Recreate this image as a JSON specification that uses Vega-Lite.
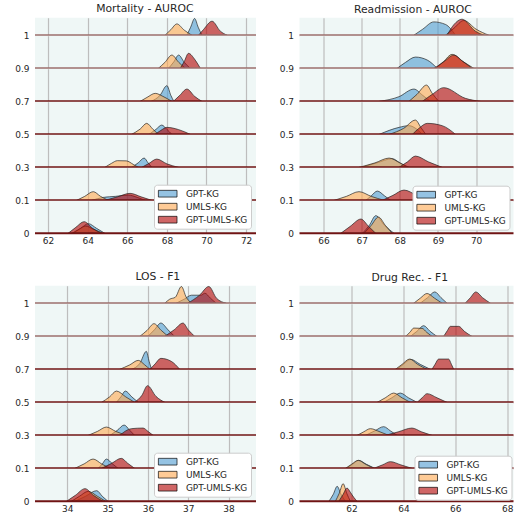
{
"$schema":"https://vega.github.io/schema/vega-lite/v6.json",
"padding":{"left":14,"top":2.7,"right":0,"bottom":0},
"datasets":{
"M":[
{"r":1,"s":"a","x":69.01,"d":0},{"r":1,"s":"a","x":69.2,"d":8},{"r":1,"s":"a","x":69.4,"d":16.7},{"r":1,"s":"a","x":69.58,"d":8},{"r":1,"s":"a","x":69.77,"d":0},
{"r":1,"s":"b","x":67.91,"d":0},{"r":1,"s":"b","x":68.2,"d":5.5},{"r":1,"s":"b","x":68.5,"d":11.3},{"r":1,"s":"b","x":68.88,"d":5},{"r":1,"s":"b","x":69.26,"d":0},
{"r":1,"s":"c","x":69.6,"d":0},{"r":1,"s":"c","x":69.85,"d":5.7},{"r":1,"s":"c","x":70.28,"d":14},{"r":1,"s":"c","x":70.7,"d":4},{"r":1,"s":"c","x":71.04,"d":0},
{"r":0.9,"s":"a","x":68.08,"d":0},{"r":0.9,"s":"a","x":68.35,"d":6.5},{"r":0.9,"s":"a","x":68.59,"d":13.3},{"r":0.9,"s":"a","x":68.88,"d":6},{"r":0.9,"s":"a","x":69.18,"d":0},
{"r":0.9,"s":"b","x":67.57,"d":0},{"r":0.9,"s":"b","x":67.9,"d":6},{"r":0.9,"s":"b","x":68.25,"d":13.3},{"r":0.9,"s":"b","x":68.6,"d":6},{"r":0.9,"s":"b","x":68.93,"d":0},
{"r":0.9,"s":"c","x":68.67,"d":0},{"r":0.9,"s":"c","x":68.88,"d":7},{"r":0.9,"s":"c","x":69.09,"d":15},{"r":0.9,"s":"c","x":69.43,"d":8.3},{"r":0.9,"s":"c","x":69.69,"d":0},
{"r":0.7,"s":"a","x":67.2,"d":0},{"r":0.7,"s":"a","x":67.65,"d":6},{"r":0.7,"s":"a","x":68.0,"d":15.7},{"r":0.7,"s":"a","x":68.2,"d":6},{"r":0.7,"s":"a","x":68.35,"d":0},
{"r":0.7,"s":"b","x":66.65,"d":0},{"r":0.7,"s":"b","x":67.0,"d":4},{"r":0.7,"s":"b","x":67.41,"d":8},{"r":0.7,"s":"b","x":67.8,"d":5},{"r":0.7,"s":"b","x":68.25,"d":0},
{"r":0.7,"s":"c","x":68.33,"d":0},{"r":0.7,"s":"c","x":68.65,"d":6},{"r":0.7,"s":"c","x":69.01,"d":12.3},{"r":0.7,"s":"c","x":69.4,"d":5},{"r":0.7,"s":"c","x":69.77,"d":0},
{"r":0.5,"s":"a","x":67.1,"d":0},{"r":0.5,"s":"a","x":67.45,"d":5},{"r":0.5,"s":"a","x":67.74,"d":9.3},{"r":0.5,"s":"a","x":68.0,"d":5},{"r":0.5,"s":"a","x":68.25,"d":0},
{"r":0.5,"s":"b","x":66.22,"d":0},{"r":0.5,"s":"b","x":66.65,"d":5.3},{"r":0.5,"s":"b","x":66.98,"d":11},{"r":0.5,"s":"b","x":67.3,"d":5},{"r":0.5,"s":"b","x":67.57,"d":0},
{"r":0.5,"s":"c","x":67.4,"d":0},{"r":0.5,"s":"c","x":67.7,"d":4},{"r":0.5,"s":"c","x":68.0,"d":7},{"r":0.5,"s":"c","x":68.6,"d":4.7},{"r":0.5,"s":"c","x":69.18,"d":0},
{"r":0.3,"s":"a","x":66.22,"d":0},{"r":0.3,"s":"a","x":66.55,"d":4.5},{"r":0.3,"s":"a","x":66.85,"d":9.3},{"r":0.3,"s":"a","x":67.05,"d":4.5},{"r":0.3,"s":"a","x":67.24,"d":0},
{"r":0.3,"s":"b","x":64.87,"d":0},{"r":0.3,"s":"b","x":65.2,"d":4},{"r":0.3,"s":"b","x":65.5,"d":6.7},{"r":0.3,"s":"b","x":65.95,"d":6.5},{"r":0.3,"s":"b","x":66.3,"d":3},{"r":0.3,"s":"b","x":66.56,"d":0},
{"r":0.3,"s":"c","x":66.73,"d":0},{"r":0.3,"s":"c","x":67.1,"d":4},{"r":0.3,"s":"c","x":67.49,"d":8.3},{"r":0.3,"s":"c","x":68.0,"d":3.5},{"r":0.3,"s":"c","x":68.59,"d":0},
{"r":0.1,"s":"a","x":64.2,"d":0},{"r":0.1,"s":"a","x":64.8,"d":3},{"r":0.1,"s":"a","x":65.4,"d":4},{"r":0.1,"s":"a","x":66.05,"d":5.3},{"r":0.1,"s":"a","x":66.5,"d":3},{"r":0.1,"s":"a","x":66.9,"d":0},
{"r":0.1,"s":"b","x":63.44,"d":0},{"r":0.1,"s":"b","x":63.85,"d":4},{"r":0.1,"s":"b","x":64.28,"d":8.7},{"r":0.1,"s":"b","x":64.65,"d":4},{"r":0.1,"s":"b","x":65.04,"d":0},
{"r":0.1,"s":"c","x":64.87,"d":0},{"r":0.1,"s":"c","x":65.5,"d":3.5},{"r":0.1,"s":"c","x":66.14,"d":7},{"r":0.1,"s":"c","x":66.7,"d":3.5},{"r":0.1,"s":"c","x":67.24,"d":0},
{"r":0,"s":"a","x":63.27,"d":0},{"r":0,"s":"a","x":63.65,"d":5},{"r":0,"s":"a","x":64.03,"d":9.7},{"r":0,"s":"a","x":64.45,"d":5},{"r":0,"s":"a","x":64.87,"d":0},
{"r":0,"s":"b","x":63.2,"d":0},{"r":0,"s":"b","x":63.55,"d":4},{"r":0,"s":"b","x":63.9,"d":7.3},{"r":0,"s":"b","x":64.3,"d":4},{"r":0,"s":"b","x":64.8,"d":0},
{"r":0,"s":"c","x":63.01,"d":0},{"r":0,"s":"c","x":63.4,"d":6},{"r":0,"s":"c","x":63.82,"d":11.7},{"r":0,"s":"c","x":64.25,"d":5},{"r":0,"s":"c","x":64.7,"d":0}
],
"A":[
{"r":1,"s":"a","x":68.37,"d":0},{"r":1,"s":"a","x":68.6,"d":6},{"r":1,"s":"a","x":68.89,"d":13.3},{"r":1,"s":"a","x":69.2,"d":10.7},{"r":1,"s":"a","x":69.46,"d":0},
{"r":1,"s":"b","x":69.2,"d":0},{"r":1,"s":"b","x":69.42,"d":7},{"r":1,"s":"b","x":69.68,"d":14.7},{"r":1,"s":"b","x":70.0,"d":6},{"r":1,"s":"b","x":70.33,"d":0},
{"r":1,"s":"c","x":69.24,"d":0},{"r":1,"s":"c","x":69.42,"d":10.7},{"r":1,"s":"c","x":69.63,"d":16},{"r":1,"s":"c","x":69.98,"d":4},{"r":1,"s":"c","x":70.2,"d":0},
{"r":0.9,"s":"a","x":67.93,"d":0},{"r":0.9,"s":"a","x":68.15,"d":6},{"r":0.9,"s":"a","x":68.41,"d":11.3},{"r":0.9,"s":"a","x":68.72,"d":8.3},{"r":0.9,"s":"a","x":68.98,"d":0},
{"r":0.9,"s":"b","x":68.94,"d":0},{"r":0.9,"s":"b","x":69.15,"d":7},{"r":0.9,"s":"b","x":69.37,"d":14},{"r":0.9,"s":"b","x":69.65,"d":7},{"r":0.9,"s":"b","x":69.94,"d":0},
{"r":0.9,"s":"c","x":68.9,"d":0},{"r":0.9,"s":"c","x":69.15,"d":6.5},{"r":0.9,"s":"c","x":69.42,"d":13.3},{"r":0.9,"s":"c","x":69.65,"d":7},{"r":0.9,"s":"c","x":69.9,"d":0},
{"r":0.7,"s":"a","x":67.46,"d":0},{"r":0.7,"s":"a","x":67.98,"d":4.7},{"r":0.7,"s":"a","x":68.37,"d":12.3},{"r":0.7,"s":"a","x":68.6,"d":6},{"r":0.7,"s":"a","x":68.8,"d":0},
{"r":0.7,"s":"b","x":68.24,"d":0},{"r":0.7,"s":"b","x":68.45,"d":7},{"r":0.7,"s":"b","x":68.7,"d":16.3},{"r":0.7,"s":"b","x":68.85,"d":8},{"r":0.7,"s":"b","x":69.02,"d":0},
{"r":0.7,"s":"c","x":68.59,"d":0},{"r":0.7,"s":"c","x":68.85,"d":7},{"r":0.7,"s":"c","x":69.15,"d":13.7},{"r":0.7,"s":"c","x":69.72,"d":3},{"r":0.7,"s":"c","x":70.11,"d":0},
{"r":0.5,"s":"a","x":67.46,"d":0},{"r":0.5,"s":"a","x":67.98,"d":7},{"r":0.5,"s":"a","x":68.24,"d":8.7},{"r":0.5,"s":"a","x":68.45,"d":5},{"r":0.5,"s":"a","x":68.59,"d":0},
{"r":0.5,"s":"b","x":67.72,"d":0},{"r":0.5,"s":"b","x":68.1,"d":6},{"r":0.5,"s":"b","x":68.41,"d":14.3},{"r":0.5,"s":"b","x":68.55,"d":7},{"r":0.5,"s":"b","x":68.68,"d":0},
{"r":0.5,"s":"c","x":68.33,"d":0},{"r":0.5,"s":"c","x":68.5,"d":6},{"r":0.5,"s":"c","x":68.72,"d":11},{"r":0.5,"s":"c","x":69.11,"d":8.7},{"r":0.5,"s":"c","x":69.46,"d":0},
{"r":0.3,"s":"a","x":67.0,"d":0},{"r":0.3,"s":"a","x":67.4,"d":4.5},{"r":0.3,"s":"a","x":67.8,"d":8.7},{"r":0.3,"s":"a","x":68.0,"d":4.5},{"r":0.3,"s":"a","x":68.2,"d":0},
{"r":0.3,"s":"b","x":66.93,"d":0},{"r":0.3,"s":"b","x":67.35,"d":4.5},{"r":0.3,"s":"b","x":67.72,"d":9.3},{"r":0.3,"s":"b","x":68.0,"d":4.5},{"r":0.3,"s":"b","x":68.24,"d":0},
{"r":0.3,"s":"c","x":67.98,"d":0},{"r":0.3,"s":"c","x":68.2,"d":5.5},{"r":0.3,"s":"c","x":68.41,"d":11.3},{"r":0.3,"s":"c","x":68.75,"d":5.5},{"r":0.3,"s":"c","x":69.11,"d":0},
{"r":0.1,"s":"a","x":67.11,"d":0},{"r":0.1,"s":"a","x":67.25,"d":4.5},{"r":0.1,"s":"a","x":67.41,"d":9.3},{"r":0.1,"s":"a","x":67.6,"d":4.5},{"r":0.1,"s":"a","x":67.76,"d":0},
{"r":0.1,"s":"b","x":66.28,"d":0},{"r":0.1,"s":"b","x":66.6,"d":4},{"r":0.1,"s":"b","x":66.93,"d":8.7},{"r":0.1,"s":"b","x":67.25,"d":4},{"r":0.1,"s":"b","x":67.59,"d":0},
{"r":0.1,"s":"c","x":67.54,"d":0},{"r":0.1,"s":"c","x":67.82,"d":5},{"r":0.1,"s":"c","x":68.11,"d":10.3},{"r":0.1,"s":"c","x":68.45,"d":5},{"r":0.1,"s":"c","x":68.8,"d":0},
{"r":0,"s":"a","x":67.02,"d":0},{"r":0,"s":"a","x":67.2,"d":8},{"r":0,"s":"a","x":67.37,"d":17.7},{"r":0,"s":"a","x":67.6,"d":8},{"r":0,"s":"a","x":67.85,"d":0},
{"r":0,"s":"b","x":67.06,"d":0},{"r":0,"s":"b","x":67.25,"d":8},{"r":0,"s":"b","x":67.44,"d":16.3},{"r":0,"s":"b","x":67.62,"d":8},{"r":0,"s":"b","x":67.8,"d":0},
{"r":0,"s":"c","x":66.45,"d":0},{"r":0,"s":"c","x":66.7,"d":7},{"r":0,"s":"c","x":66.98,"d":14.3},{"r":0,"s":"c","x":67.18,"d":7},{"r":0,"s":"c","x":67.37,"d":0}
],
"L":[
{"r":1,"s":"a","x":36.7,"d":0},{"r":1,"s":"a","x":36.9,"d":4},{"r":1,"s":"a","x":37.08,"d":8},{"r":1,"s":"a","x":37.32,"d":8},{"r":1,"s":"a","x":37.41,"d":10},{"r":1,"s":"a","x":37.55,"d":5},{"r":1,"s":"a","x":37.69,"d":0},
{"r":1,"s":"b","x":36.42,"d":0},{"r":1,"s":"b","x":36.54,"d":4},{"r":1,"s":"b","x":36.68,"d":6},{"r":1,"s":"b","x":36.83,"d":16.7},{"r":1,"s":"b","x":36.95,"d":6},{"r":1,"s":"b","x":37.08,"d":0},
{"r":1,"s":"c","x":36.99,"d":0},{"r":1,"s":"c","x":37.28,"d":8},{"r":1,"s":"c","x":37.51,"d":16.7},{"r":1,"s":"c","x":37.7,"d":5},{"r":1,"s":"c","x":37.94,"d":0},
{"r":0.9,"s":"a","x":36.0,"d":0},{"r":0.9,"s":"a","x":36.16,"d":6.5},{"r":0.9,"s":"a","x":36.32,"d":13.3},{"r":0.9,"s":"a","x":36.5,"d":6.5},{"r":0.9,"s":"a","x":36.66,"d":0},
{"r":0.9,"s":"b","x":35.8,"d":0},{"r":0.9,"s":"b","x":35.98,"d":6},{"r":0.9,"s":"b","x":36.15,"d":12.7},{"r":0.9,"s":"b","x":36.33,"d":6},{"r":0.9,"s":"b","x":36.5,"d":0},
{"r":0.9,"s":"c","x":36.42,"d":0},{"r":0.9,"s":"c","x":36.65,"d":6.5},{"r":0.9,"s":"c","x":36.87,"d":13.3},{"r":0.9,"s":"c","x":37.0,"d":6.5},{"r":0.9,"s":"c","x":37.16,"d":0},
{"r":0.7,"s":"a","x":35.59,"d":0},{"r":0.7,"s":"a","x":35.8,"d":6},{"r":0.7,"s":"a","x":35.96,"d":18},{"r":0.7,"s":"a","x":36.03,"d":8},{"r":0.7,"s":"a","x":36.09,"d":0},
{"r":0.7,"s":"b","x":35.3,"d":0},{"r":0.7,"s":"b","x":35.55,"d":4.5},{"r":0.7,"s":"b","x":35.76,"d":9},{"r":0.7,"s":"b","x":35.92,"d":4.5},{"r":0.7,"s":"b","x":36.05,"d":0},
{"r":0.7,"s":"c","x":36.05,"d":0},{"r":0.7,"s":"c","x":36.18,"d":5.5},{"r":0.7,"s":"c","x":36.32,"d":11},{"r":0.7,"s":"c","x":36.58,"d":8},{"r":0.7,"s":"c","x":36.79,"d":0},
{"r":0.5,"s":"a","x":35.22,"d":0},{"r":0.5,"s":"a","x":35.33,"d":5.5},{"r":0.5,"s":"a","x":35.44,"d":11.3},{"r":0.5,"s":"a","x":35.6,"d":5.5},{"r":0.5,"s":"a","x":35.76,"d":0},
{"r":0.5,"s":"b","x":34.85,"d":0},{"r":0.5,"s":"b","x":35.05,"d":5.5},{"r":0.5,"s":"b","x":35.22,"d":11.3},{"r":0.5,"s":"b","x":35.45,"d":5.5},{"r":0.5,"s":"b","x":35.67,"d":0},
{"r":0.5,"s":"c","x":35.67,"d":0},{"r":0.5,"s":"c","x":35.85,"d":7},{"r":0.5,"s":"c","x":35.99,"d":16.7},{"r":0.5,"s":"c","x":36.2,"d":6},{"r":0.5,"s":"c","x":36.42,"d":0},
{"r":0.3,"s":"a","x":35.06,"d":0},{"r":0.3,"s":"a","x":35.24,"d":5},{"r":0.3,"s":"a","x":35.41,"d":10.3},{"r":0.3,"s":"a","x":35.55,"d":5},{"r":0.3,"s":"a","x":35.67,"d":0},
{"r":0.3,"s":"b","x":34.52,"d":0},{"r":0.3,"s":"b","x":34.75,"d":4},{"r":0.3,"s":"b","x":34.97,"d":8.3},{"r":0.3,"s":"b","x":35.2,"d":4},{"r":0.3,"s":"b","x":35.47,"d":0},
{"r":0.3,"s":"c","x":35.3,"d":0},{"r":0.3,"s":"c","x":35.59,"d":6.7},{"r":0.3,"s":"c","x":35.88,"d":7.3},{"r":0.3,"s":"c","x":36.0,"d":4},{"r":0.3,"s":"c","x":36.13,"d":0},
{"r":0.1,"s":"a","x":34.77,"d":0},{"r":0.1,"s":"a","x":34.87,"d":4.5},{"r":0.1,"s":"a","x":34.97,"d":9.3},{"r":0.1,"s":"a","x":35.12,"d":4.5},{"r":0.1,"s":"a","x":35.26,"d":0},
{"r":0.1,"s":"b","x":34.19,"d":0},{"r":0.1,"s":"b","x":34.42,"d":4.5},{"r":0.1,"s":"b","x":34.64,"d":9.3},{"r":0.1,"s":"b","x":34.85,"d":4.5},{"r":0.1,"s":"b","x":35.06,"d":0},
{"r":0.1,"s":"c","x":34.85,"d":0},{"r":0.1,"s":"c","x":35.1,"d":5},{"r":0.1,"s":"c","x":35.34,"d":10},{"r":0.1,"s":"c","x":35.5,"d":5},{"r":0.1,"s":"c","x":35.67,"d":0},
{"r":0,"s":"a","x":34.19,"d":0},{"r":0,"s":"a","x":34.45,"d":5},{"r":0,"s":"a","x":34.73,"d":10.7},{"r":0,"s":"a","x":34.87,"d":5},{"r":0,"s":"a","x":35.01,"d":0},
{"r":0,"s":"b","x":34.1,"d":0},{"r":0,"s":"b","x":34.3,"d":5},{"r":0,"s":"b","x":34.52,"d":10},{"r":0,"s":"b","x":34.75,"d":5},{"r":0,"s":"b","x":34.95,"d":0},
{"r":0,"s":"c","x":33.98,"d":0},{"r":0,"s":"c","x":34.2,"d":6},{"r":0,"s":"c","x":34.44,"d":12.7},{"r":0,"s":"c","x":34.65,"d":6},{"r":0,"s":"c","x":34.89,"d":0}
],
"D":[
{"r":1,"s":"a","x":64.65,"d":0},{"r":1,"s":"a","x":64.93,"d":5.5},{"r":1,"s":"a","x":65.21,"d":11.3},{"r":1,"s":"a","x":65.45,"d":5.5},{"r":1,"s":"a","x":65.68,"d":0},
{"r":1,"s":"b","x":64.4,"d":0},{"r":1,"s":"b","x":64.65,"d":5},{"r":1,"s":"b","x":64.91,"d":9.7},{"r":1,"s":"b","x":65.2,"d":5},{"r":1,"s":"b","x":65.49,"d":0},
{"r":1,"s":"c","x":66.38,"d":0},{"r":1,"s":"c","x":66.58,"d":5.5},{"r":1,"s":"c","x":66.79,"d":11.3},{"r":1,"s":"c","x":67.05,"d":5.5},{"r":1,"s":"c","x":67.35,"d":0},
{"r":0.9,"s":"a","x":64.27,"d":0},{"r":0.9,"s":"a","x":64.52,"d":5},{"r":0.9,"s":"a","x":64.78,"d":10.7},{"r":0.9,"s":"a","x":65.03,"d":5},{"r":0.9,"s":"a","x":65.29,"d":0},
{"r":0.9,"s":"b","x":64.08,"d":0},{"r":0.9,"s":"b","x":64.25,"d":4},{"r":0.9,"s":"b","x":64.4,"d":8.3},{"r":0.9,"s":"b","x":64.72,"d":8},{"r":0.9,"s":"b","x":64.9,"d":4},{"r":0.9,"s":"b","x":65.1,"d":0},
{"r":0.9,"s":"c","x":65.55,"d":0},{"r":0.9,"s":"c","x":65.7,"d":6},{"r":0.9,"s":"c","x":65.81,"d":10},{"r":0.9,"s":"c","x":66.13,"d":10},{"r":0.9,"s":"c","x":66.35,"d":5},{"r":0.9,"s":"c","x":66.64,"d":0},
{"r":0.7,"s":"a","x":63.75,"d":0},{"r":0.7,"s":"a","x":64.0,"d":5},{"r":0.7,"s":"a","x":64.28,"d":10},{"r":0.7,"s":"a","x":64.65,"d":5},{"r":0.7,"s":"a","x":65.04,"d":0},
{"r":0.7,"s":"b","x":63.69,"d":0},{"r":0.7,"s":"b","x":63.95,"d":5},{"r":0.7,"s":"b","x":64.24,"d":10.3},{"r":0.7,"s":"b","x":64.55,"d":5},{"r":0.7,"s":"b","x":64.91,"d":0},
{"r":0.7,"s":"c","x":65.1,"d":0},{"r":0.7,"s":"c","x":65.22,"d":5},{"r":0.7,"s":"c","x":65.36,"d":10.3},{"r":0.7,"s":"c","x":65.74,"d":10.3},{"r":0.7,"s":"c","x":65.85,"d":5},{"r":0.7,"s":"c","x":65.94,"d":0},
{"r":0.5,"s":"a","x":63.24,"d":0},{"r":0.5,"s":"a","x":63.55,"d":4.5},{"r":0.5,"s":"a","x":63.88,"d":9.3},{"r":0.5,"s":"a","x":64.2,"d":4.5},{"r":0.5,"s":"a","x":64.53,"d":0},
{"r":0.5,"s":"b","x":62.99,"d":0},{"r":0.5,"s":"b","x":63.3,"d":4.5},{"r":0.5,"s":"b","x":63.63,"d":9.3},{"r":0.5,"s":"b","x":63.95,"d":4.5},{"r":0.5,"s":"b","x":64.27,"d":0},
{"r":0.5,"s":"c","x":64.53,"d":0},{"r":0.5,"s":"c","x":64.72,"d":4.5},{"r":0.5,"s":"c","x":64.91,"d":8.7},{"r":0.5,"s":"c","x":65.3,"d":4.5},{"r":0.5,"s":"c","x":65.68,"d":0},
{"r":0.3,"s":"a","x":62.54,"d":0},{"r":0.3,"s":"a","x":62.9,"d":4.5},{"r":0.3,"s":"a","x":63.24,"d":8.7},{"r":0.3,"s":"a","x":63.5,"d":4.5},{"r":0.3,"s":"a","x":63.76,"d":0},
{"r":0.3,"s":"b","x":62.22,"d":0},{"r":0.3,"s":"b","x":62.47,"d":3.5},{"r":0.3,"s":"b","x":62.73,"d":6.7},{"r":0.3,"s":"b","x":63.1,"d":3.5},{"r":0.3,"s":"b","x":63.44,"d":0},
{"r":0.3,"s":"c","x":63.31,"d":0},{"r":0.3,"s":"c","x":63.8,"d":3.5},{"r":0.3,"s":"c","x":64.33,"d":7.3},{"r":0.3,"s":"c","x":64.7,"d":3.5},{"r":0.3,"s":"c","x":65.1,"d":0},
{"r":0.1,"s":"a","x":61.8,"d":0},{"r":0.1,"s":"a","x":62.04,"d":4},{"r":0.1,"s":"a","x":62.28,"d":8},{"r":0.1,"s":"a","x":62.58,"d":4},{"r":0.1,"s":"a","x":62.9,"d":0},
{"r":0.1,"s":"b","x":61.77,"d":0},{"r":0.1,"s":"b","x":62.0,"d":4},{"r":0.1,"s":"b","x":62.26,"d":8},{"r":0.1,"s":"b","x":62.55,"d":4},{"r":0.1,"s":"b","x":62.86,"d":0},
{"r":0.1,"s":"c","x":62.86,"d":0},{"r":0.1,"s":"c","x":63.2,"d":3.5},{"r":0.1,"s":"c","x":63.5,"d":6.7},{"r":0.1,"s":"c","x":63.9,"d":3.5},{"r":0.1,"s":"c","x":64.33,"d":0},
{"r":0,"s":"a","x":61.13,"d":0},{"r":0,"s":"a","x":61.3,"d":7},{"r":0,"s":"a","x":61.45,"d":15},{"r":0,"s":"a","x":61.6,"d":7},{"r":0,"s":"a","x":61.77,"d":0},
{"r":0,"s":"b","x":61.38,"d":0},{"r":0,"s":"b","x":61.53,"d":8},{"r":0,"s":"b","x":61.68,"d":17.7},{"r":0,"s":"b","x":61.82,"d":8},{"r":0,"s":"b","x":61.96,"d":0},
{"r":0,"s":"c","x":61.51,"d":0},{"r":0,"s":"c","x":61.67,"d":6.5},{"r":0,"s":"c","x":61.83,"d":13.3},{"r":0,"s":"c","x":61.96,"d":9},{"r":0,"s":"c","x":62.09,"d":4},{"r":0,"s":"c","x":62.22,"d":0}
]
},
"spacing":25,
"resolve":{"scale":{"x":"independent","y":"independent","color":"independent"},"axis":{"x":"independent","y":"independent"},"legend":{"color":"independent"}},
"vconcat":[
{"hconcat":[
{"title":{"text":"Mortality - AUROC","dx":9},"data":{"name":"M"},"spacing":0,"bounds":"flush",
"resolve":{"scale":{"x":"independent","y":"independent","color":"independent"},"axis":{"x":"independent","y":"independent"},"legend":{"color":"independent"}},
"vconcat":[
{"width":221,"height":17.5,"transform":[{"filter":"datum.r==1"}],"layer":[{"mark":"area","encoding":{"x":{"field":"x","type":"quantitative","title":null,"scale":{"domain":[61.34,72.5],"nice":false,"zero":false},"axis":{"values":[62,64,66,68,70,72]}},"y":{"field":"d","type":"quantitative","stack":null,"scale":{"domain":[0,17.5],"nice":false},"axis":{"title":"1","titleY":17.5}},"color":{"field":"s","type":"nominal","legend":null}}},{"data":{"values":[{}]},"mark":{"type":"rule","color":"#9c6f6d"},"encoding":{"y":{"datum":0}}}]},
{"width":221,"height":32.67,"transform":[{"filter":"datum.r==0.9"}],"layer":[{"mark":"area","encoding":{"x":{"field":"x","type":"quantitative","title":null,"scale":{"domain":[61.34,72.5],"nice":false,"zero":false},"axis":{"values":[62,64,66,68,70,72]}},"y":{"field":"d","type":"quantitative","stack":null,"scale":{"domain":[0,32.67],"nice":false},"axis":{"title":"0.9","titleY":32.67}},"color":{"field":"s","type":"nominal","legend":null}}},{"data":{"values":[{}]},"mark":{"type":"rule","color":"#9c6f6d"},"encoding":{"y":{"datum":0}}}]},
{"width":221,"height":32.67,"transform":[{"filter":"datum.r==0.7"}],"layer":[{"mark":"area","encoding":{"x":{"field":"x","type":"quantitative","title":null,"scale":{"domain":[61.34,72.5],"nice":false,"zero":false},"axis":{"values":[62,64,66,68,70,72]}},"y":{"field":"d","type":"quantitative","stack":null,"scale":{"domain":[0,32.67],"nice":false},"axis":{"title":"0.7","titleY":32.67}},"color":{"field":"s","type":"nominal","legend":null}}},{"data":{"values":[{}]},"mark":"rule","encoding":{"y":{"datum":0}}}]},
{"width":221,"height":32.67,"transform":[{"filter":"datum.r==0.5"}],"layer":[{"mark":"area","encoding":{"x":{"field":"x","type":"quantitative","title":null,"scale":{"domain":[61.34,72.5],"nice":false,"zero":false},"axis":{"values":[62,64,66,68,70,72]}},"y":{"field":"d","type":"quantitative","stack":null,"scale":{"domain":[0,32.67],"nice":false},"axis":{"title":"0.5","titleY":32.67}},"color":{"field":"s","type":"nominal","legend":null}}},{"data":{"values":[{}]},"mark":"rule","encoding":{"y":{"datum":0}}}]},
{"width":221,"height":32.67,"transform":[{"filter":"datum.r==0.3"}],"layer":[{"mark":"area","encoding":{"x":{"field":"x","type":"quantitative","title":null,"scale":{"domain":[61.34,72.5],"nice":false,"zero":false},"axis":{"values":[62,64,66,68,70,72]}},"y":{"field":"d","type":"quantitative","stack":null,"scale":{"domain":[0,32.67],"nice":false},"axis":{"title":"0.3","titleY":32.67}},"color":{"field":"s","type":"nominal","legend":null}}},{"data":{"values":[{}]},"mark":"rule","encoding":{"y":{"datum":0}}}]},
{"width":221,"height":32.67,"transform":[{"filter":"datum.r==0.1"}],"layer":[{"mark":"area","encoding":{"x":{"field":"x","type":"quantitative","title":null,"scale":{"domain":[61.34,72.5],"nice":false,"zero":false},"axis":{"values":[62,64,66,68,70,72]}},"y":{"field":"d","type":"quantitative","stack":null,"scale":{"domain":[0,32.67],"nice":false},"axis":{"title":"0.1","titleY":32.67}},"color":{"field":"s","type":"nominal","legend":null}}},{"data":{"values":[{}]},"mark":"rule","encoding":{"y":{"datum":0}}}]},
{"width":221,"height":32.67,"transform":[{"filter":"datum.r==0"}],"layer":[{"mark":"area","encoding":{"x":{"field":"x","type":"quantitative","title":null,"scale":{"domain":[61.34,72.5],"nice":false,"zero":false},"axis":{"values":[62,64,66,68,70,72],"labels":true}},"y":{"field":"d","type":"quantitative","stack":null,"scale":{"domain":[0,32.67],"nice":false},"axis":{"title":"0","titleY":32.67}},"color":{"field":"s","type":"nominal","legend":{"orient":"bottom-right","offset":5,"title":null,"labelExpr":"datum.label=='a'?'GPT-KG':datum.label=='b'?'UMLS-KG':'GPT-UMLS-KG'","encode":{"symbols":{"update":{"fillOpacity":{"value":1}}}}}}}},{"data":{"values":[{}]},"mark":"rule","encoding":{"y":{"datum":0}}}]}
]},
{"title":{"text":"Readmission - AUROC","dx":16},"data":{"name":"A"},"spacing":0,"bounds":"flush",
"resolve":{"scale":{"x":"independent","y":"independent","color":"independent"},"axis":{"x":"independent","y":"independent"},"legend":{"color":"independent"}},
"vconcat":[
{"width":214,"height":17.5,"transform":[{"filter":"datum.r==1"}],"layer":[{"mark":"area","encoding":{"x":{"field":"x","type":"quantitative","title":null,"scale":{"domain":[65.37,70.98],"nice":false,"zero":false},"axis":{"values":[66,67,68,69,70]}},"y":{"field":"d","type":"quantitative","stack":null,"scale":{"domain":[0,17.5],"nice":false},"axis":{"title":"1","titleY":17.5}},"color":{"field":"s","type":"nominal","legend":null}}},{"data":{"values":[{}]},"mark":{"type":"rule","color":"#9c6f6d"},"encoding":{"y":{"datum":0}}}]},
{"width":214,"height":32.67,"transform":[{"filter":"datum.r==0.9"}],"layer":[{"mark":"area","encoding":{"x":{"field":"x","type":"quantitative","title":null,"scale":{"domain":[65.37,70.98],"nice":false,"zero":false},"axis":{"values":[66,67,68,69,70]}},"y":{"field":"d","type":"quantitative","stack":null,"scale":{"domain":[0,32.67],"nice":false},"axis":{"title":"0.9","titleY":32.67}},"color":{"field":"s","type":"nominal","legend":null}}},{"data":{"values":[{}]},"mark":{"type":"rule","color":"#9c6f6d"},"encoding":{"y":{"datum":0}}}]},
{"width":214,"height":32.67,"transform":[{"filter":"datum.r==0.7"}],"layer":[{"mark":"area","encoding":{"x":{"field":"x","type":"quantitative","title":null,"scale":{"domain":[65.37,70.98],"nice":false,"zero":false},"axis":{"values":[66,67,68,69,70]}},"y":{"field":"d","type":"quantitative","stack":null,"scale":{"domain":[0,32.67],"nice":false},"axis":{"title":"0.7","titleY":32.67}},"color":{"field":"s","type":"nominal","legend":null}}},{"data":{"values":[{}]},"mark":"rule","encoding":{"y":{"datum":0}}}]},
{"width":214,"height":32.67,"transform":[{"filter":"datum.r==0.5"}],"layer":[{"mark":"area","encoding":{"x":{"field":"x","type":"quantitative","title":null,"scale":{"domain":[65.37,70.98],"nice":false,"zero":false},"axis":{"values":[66,67,68,69,70]}},"y":{"field":"d","type":"quantitative","stack":null,"scale":{"domain":[0,32.67],"nice":false},"axis":{"title":"0.5","titleY":32.67}},"color":{"field":"s","type":"nominal","legend":null}}},{"data":{"values":[{}]},"mark":"rule","encoding":{"y":{"datum":0}}}]},
{"width":214,"height":32.67,"transform":[{"filter":"datum.r==0.3"}],"layer":[{"mark":"area","encoding":{"x":{"field":"x","type":"quantitative","title":null,"scale":{"domain":[65.37,70.98],"nice":false,"zero":false},"axis":{"values":[66,67,68,69,70]}},"y":{"field":"d","type":"quantitative","stack":null,"scale":{"domain":[0,32.67],"nice":false},"axis":{"title":"0.3","titleY":32.67}},"color":{"field":"s","type":"nominal","legend":null}}},{"data":{"values":[{}]},"mark":"rule","encoding":{"y":{"datum":0}}}]},
{"width":214,"height":32.67,"transform":[{"filter":"datum.r==0.1"}],"layer":[{"mark":"area","encoding":{"x":{"field":"x","type":"quantitative","title":null,"scale":{"domain":[65.37,70.98],"nice":false,"zero":false},"axis":{"values":[66,67,68,69,70]}},"y":{"field":"d","type":"quantitative","stack":null,"scale":{"domain":[0,32.67],"nice":false},"axis":{"title":"0.1","titleY":32.67}},"color":{"field":"s","type":"nominal","legend":null}}},{"data":{"values":[{}]},"mark":"rule","encoding":{"y":{"datum":0}}}]},
{"width":214,"height":32.67,"transform":[{"filter":"datum.r==0"}],"layer":[{"mark":"area","encoding":{"x":{"field":"x","type":"quantitative","title":null,"scale":{"domain":[65.37,70.98],"nice":false,"zero":false},"axis":{"values":[66,67,68,69,70],"labels":true}},"y":{"field":"d","type":"quantitative","stack":null,"scale":{"domain":[0,32.67],"nice":false},"axis":{"title":"0","titleY":32.67}},"color":{"field":"s","type":"nominal","legend":{"orient":"bottom-right","offset":4,"title":null,"labelExpr":"datum.label=='a'?'GPT-KG':datum.label=='b'?'UMLS-KG':'GPT-UMLS-KG'","encode":{"symbols":{"update":{"fillOpacity":{"value":1}}}}}}}},{"data":{"values":[{}]},"mark":"rule","encoding":{"y":{"datum":0}}}]}
]}
],"spacing":21.5,"resolve":{"scale":{"x":"independent","y":"independent","color":"independent"},"axis":{"x":"independent","y":"independent"},"legend":{"color":"independent"}}},
{"hconcat":[
{"title":{"text":"LOS - F1","dx":22},"data":{"name":"L"},"spacing":0,"bounds":"flush",
"resolve":{"scale":{"x":"independent","y":"independent","color":"independent"},"axis":{"x":"independent","y":"independent"},"legend":{"color":"independent"}},
"vconcat":[
{"width":221,"height":17.5,"transform":[{"filter":"datum.r==1"}],"layer":[{"mark":"area","encoding":{"x":{"field":"x","type":"quantitative","title":null,"scale":{"domain":[33.2,38.68],"nice":false,"zero":false},"axis":{"values":[34,35,36,37,38]}},"y":{"field":"d","type":"quantitative","stack":null,"scale":{"domain":[0,17.5],"nice":false},"axis":{"title":"1","titleY":17.5}},"color":{"field":"s","type":"nominal","legend":null}}},{"data":{"values":[{}]},"mark":{"type":"rule","color":"#9c6f6d"},"encoding":{"y":{"datum":0}}}]},
{"width":221,"height":32.67,"transform":[{"filter":"datum.r==0.9"}],"layer":[{"mark":"area","encoding":{"x":{"field":"x","type":"quantitative","title":null,"scale":{"domain":[33.2,38.68],"nice":false,"zero":false},"axis":{"values":[34,35,36,37,38]}},"y":{"field":"d","type":"quantitative","stack":null,"scale":{"domain":[0,32.67],"nice":false},"axis":{"title":"0.9","titleY":32.67}},"color":{"field":"s","type":"nominal","legend":null}}},{"data":{"values":[{}]},"mark":{"type":"rule","color":"#9c6f6d"},"encoding":{"y":{"datum":0}}}]},
{"width":221,"height":32.67,"transform":[{"filter":"datum.r==0.7"}],"layer":[{"mark":"area","encoding":{"x":{"field":"x","type":"quantitative","title":null,"scale":{"domain":[33.2,38.68],"nice":false,"zero":false},"axis":{"values":[34,35,36,37,38]}},"y":{"field":"d","type":"quantitative","stack":null,"scale":{"domain":[0,32.67],"nice":false},"axis":{"title":"0.7","titleY":32.67}},"color":{"field":"s","type":"nominal","legend":null}}},{"data":{"values":[{}]},"mark":"rule","encoding":{"y":{"datum":0}}}]},
{"width":221,"height":32.67,"transform":[{"filter":"datum.r==0.5"}],"layer":[{"mark":"area","encoding":{"x":{"field":"x","type":"quantitative","title":null,"scale":{"domain":[33.2,38.68],"nice":false,"zero":false},"axis":{"values":[34,35,36,37,38]}},"y":{"field":"d","type":"quantitative","stack":null,"scale":{"domain":[0,32.67],"nice":false},"axis":{"title":"0.5","titleY":32.67}},"color":{"field":"s","type":"nominal","legend":null}}},{"data":{"values":[{}]},"mark":"rule","encoding":{"y":{"datum":0}}}]},
{"width":221,"height":32.67,"transform":[{"filter":"datum.r==0.3"}],"layer":[{"mark":"area","encoding":{"x":{"field":"x","type":"quantitative","title":null,"scale":{"domain":[33.2,38.68],"nice":false,"zero":false},"axis":{"values":[34,35,36,37,38]}},"y":{"field":"d","type":"quantitative","stack":null,"scale":{"domain":[0,32.67],"nice":false},"axis":{"title":"0.3","titleY":32.67}},"color":{"field":"s","type":"nominal","legend":null}}},{"data":{"values":[{}]},"mark":"rule","encoding":{"y":{"datum":0}}}]},
{"width":221,"height":32.67,"transform":[{"filter":"datum.r==0.1"}],"layer":[{"mark":"area","encoding":{"x":{"field":"x","type":"quantitative","title":null,"scale":{"domain":[33.2,38.68],"nice":false,"zero":false},"axis":{"values":[34,35,36,37,38]}},"y":{"field":"d","type":"quantitative","stack":null,"scale":{"domain":[0,32.67],"nice":false},"axis":{"title":"0.1","titleY":32.67}},"color":{"field":"s","type":"nominal","legend":null}}},{"data":{"values":[{}]},"mark":"rule","encoding":{"y":{"datum":0}}}]},
{"width":221,"height":32.67,"transform":[{"filter":"datum.r==0"}],"layer":[{"mark":"area","encoding":{"x":{"field":"x","type":"quantitative","title":null,"scale":{"domain":[33.2,38.68],"nice":false,"zero":false},"axis":{"values":[34,35,36,37,38],"labels":true}},"y":{"field":"d","type":"quantitative","stack":null,"scale":{"domain":[0,32.67],"nice":false},"axis":{"title":"0","titleY":32.67}},"color":{"field":"s","type":"nominal","legend":{"orient":"bottom-right","offset":5,"title":null,"labelExpr":"datum.label=='a'?'GPT-KG':datum.label=='b'?'UMLS-KG':'GPT-UMLS-KG'","encode":{"symbols":{"update":{"fillOpacity":{"value":1}}}}}}}},{"data":{"values":[{}]},"mark":"rule","encoding":{"y":{"datum":0}}}]}
]},
{"title":{"text":"Drug Rec. - F1","dx":13},"data":{"name":"D"},"spacing":0,"bounds":"flush",
"resolve":{"scale":{"x":"independent","y":"independent","color":"independent"},"axis":{"x":"independent","y":"independent"},"legend":{"color":"independent"}},
"vconcat":[
{"width":214,"height":17.5,"transform":[{"filter":"datum.r==1"}],"layer":[{"mark":"area","encoding":{"x":{"field":"x","type":"quantitative","title":null,"scale":{"domain":[60,68.24],"nice":false,"zero":false},"axis":{"values":[62,64,66,68]}},"y":{"field":"d","type":"quantitative","stack":null,"scale":{"domain":[0,17.5],"nice":false},"axis":{"title":"1","titleY":17.5}},"color":{"field":"s","type":"nominal","legend":null}}},{"data":{"values":[{}]},"mark":{"type":"rule","color":"#9c6f6d"},"encoding":{"y":{"datum":0}}}]},
{"width":214,"height":32.67,"transform":[{"filter":"datum.r==0.9"}],"layer":[{"mark":"area","encoding":{"x":{"field":"x","type":"quantitative","title":null,"scale":{"domain":[60,68.24],"nice":false,"zero":false},"axis":{"values":[62,64,66,68]}},"y":{"field":"d","type":"quantitative","stack":null,"scale":{"domain":[0,32.67],"nice":false},"axis":{"title":"0.9","titleY":32.67}},"color":{"field":"s","type":"nominal","legend":null}}},{"data":{"values":[{}]},"mark":{"type":"rule","color":"#9c6f6d"},"encoding":{"y":{"datum":0}}}]},
{"width":214,"height":32.67,"transform":[{"filter":"datum.r==0.7"}],"layer":[{"mark":"area","encoding":{"x":{"field":"x","type":"quantitative","title":null,"scale":{"domain":[60,68.24],"nice":false,"zero":false},"axis":{"values":[62,64,66,68]}},"y":{"field":"d","type":"quantitative","stack":null,"scale":{"domain":[0,32.67],"nice":false},"axis":{"title":"0.7","titleY":32.67}},"color":{"field":"s","type":"nominal","legend":null}}},{"data":{"values":[{}]},"mark":"rule","encoding":{"y":{"datum":0}}}]},
{"width":214,"height":32.67,"transform":[{"filter":"datum.r==0.5"}],"layer":[{"mark":"area","encoding":{"x":{"field":"x","type":"quantitative","title":null,"scale":{"domain":[60,68.24],"nice":false,"zero":false},"axis":{"values":[62,64,66,68]}},"y":{"field":"d","type":"quantitative","stack":null,"scale":{"domain":[0,32.67],"nice":false},"axis":{"title":"0.5","titleY":32.67}},"color":{"field":"s","type":"nominal","legend":null}}},{"data":{"values":[{}]},"mark":"rule","encoding":{"y":{"datum":0}}}]},
{"width":214,"height":32.67,"transform":[{"filter":"datum.r==0.3"}],"layer":[{"mark":"area","encoding":{"x":{"field":"x","type":"quantitative","title":null,"scale":{"domain":[60,68.24],"nice":false,"zero":false},"axis":{"values":[62,64,66,68]}},"y":{"field":"d","type":"quantitative","stack":null,"scale":{"domain":[0,32.67],"nice":false},"axis":{"title":"0.3","titleY":32.67}},"color":{"field":"s","type":"nominal","legend":null}}},{"data":{"values":[{}]},"mark":"rule","encoding":{"y":{"datum":0}}}]},
{"width":214,"height":32.67,"transform":[{"filter":"datum.r==0.1"}],"layer":[{"mark":"area","encoding":{"x":{"field":"x","type":"quantitative","title":null,"scale":{"domain":[60,68.24],"nice":false,"zero":false},"axis":{"values":[62,64,66,68]}},"y":{"field":"d","type":"quantitative","stack":null,"scale":{"domain":[0,32.67],"nice":false},"axis":{"title":"0.1","titleY":32.67}},"color":{"field":"s","type":"nominal","legend":null}}},{"data":{"values":[{}]},"mark":"rule","encoding":{"y":{"datum":0}}}]},
{"width":214,"height":32.67,"transform":[{"filter":"datum.r==0"}],"layer":[{"mark":"area","encoding":{"x":{"field":"x","type":"quantitative","title":null,"scale":{"domain":[60,68.24],"nice":false,"zero":false},"axis":{"values":[62,64,66,68],"labels":true}},"y":{"field":"d","type":"quantitative","stack":null,"scale":{"domain":[0,32.67],"nice":false},"axis":{"title":"0","titleY":32.67}},"color":{"field":"s","type":"nominal","legend":{"orient":"bottom-right","offset":2,"title":null,"labelExpr":"datum.label=='a'?'GPT-KG':datum.label=='b'?'UMLS-KG':'GPT-UMLS-KG'","encode":{"symbols":{"update":{"fillOpacity":{"value":1}}}}}}}},{"data":{"values":[{}]},"mark":"rule","encoding":{"y":{"datum":0}}}]}
]}
],"spacing":21.5,"resolve":{"scale":{"x":"independent","y":"independent","color":"independent"},"axis":{"x":"independent","y":"independent"},"legend":{"color":"independent"}}}
],
"config":{
"font":"DejaVu Sans",
"view":{"fill":"#eff7f6","stroke":null},
"axis":{"domain":false,"ticks":false,"labelFontSize":9,"labelColor":"#262626","titleFontSize":9,"titleFontWeight":"normal","titleColor":"#262626","labelPadding":3},
"axisX":{"grid":true,"gridColor":"#bdbdbd","gridWidth":1.2,"labels":false},
"axisY":{"grid":false,"labels":false,"titleAngle":0,"titleAlign":"right","titleBaseline":"middle","titleX":-6},
"area":{"fillOpacity":0.6,"stroke":"#222222","strokeWidth":0.8,"strokeOpacity":0.85,"interpolate":"monotone"},
"rule":{"color":"#701414","strokeWidth":2},
"range":{"category":["#4e9bd0","#ffa850","#b00000"]},
"legend":{"fillColor":"white","strokeColor":"#cccccc","cornerRadius":3,"padding":3.5,"labelFontSize":9,"labelColor":"#262626","symbolType":"M-2,-0.72H2V0.72H-2Z","symbolSize":87,"symbolOffset":4.7,"symbolStrokeColor":"#000000","symbolStrokeWidth":0.9,"symbolOpacity":1,"rowPadding":2,"labelOffset":12.7},
"title":{"fontSize":10.8,"fontWeight":"normal","color":"#262626","offset":3,"anchor":"middle"}
}
}
